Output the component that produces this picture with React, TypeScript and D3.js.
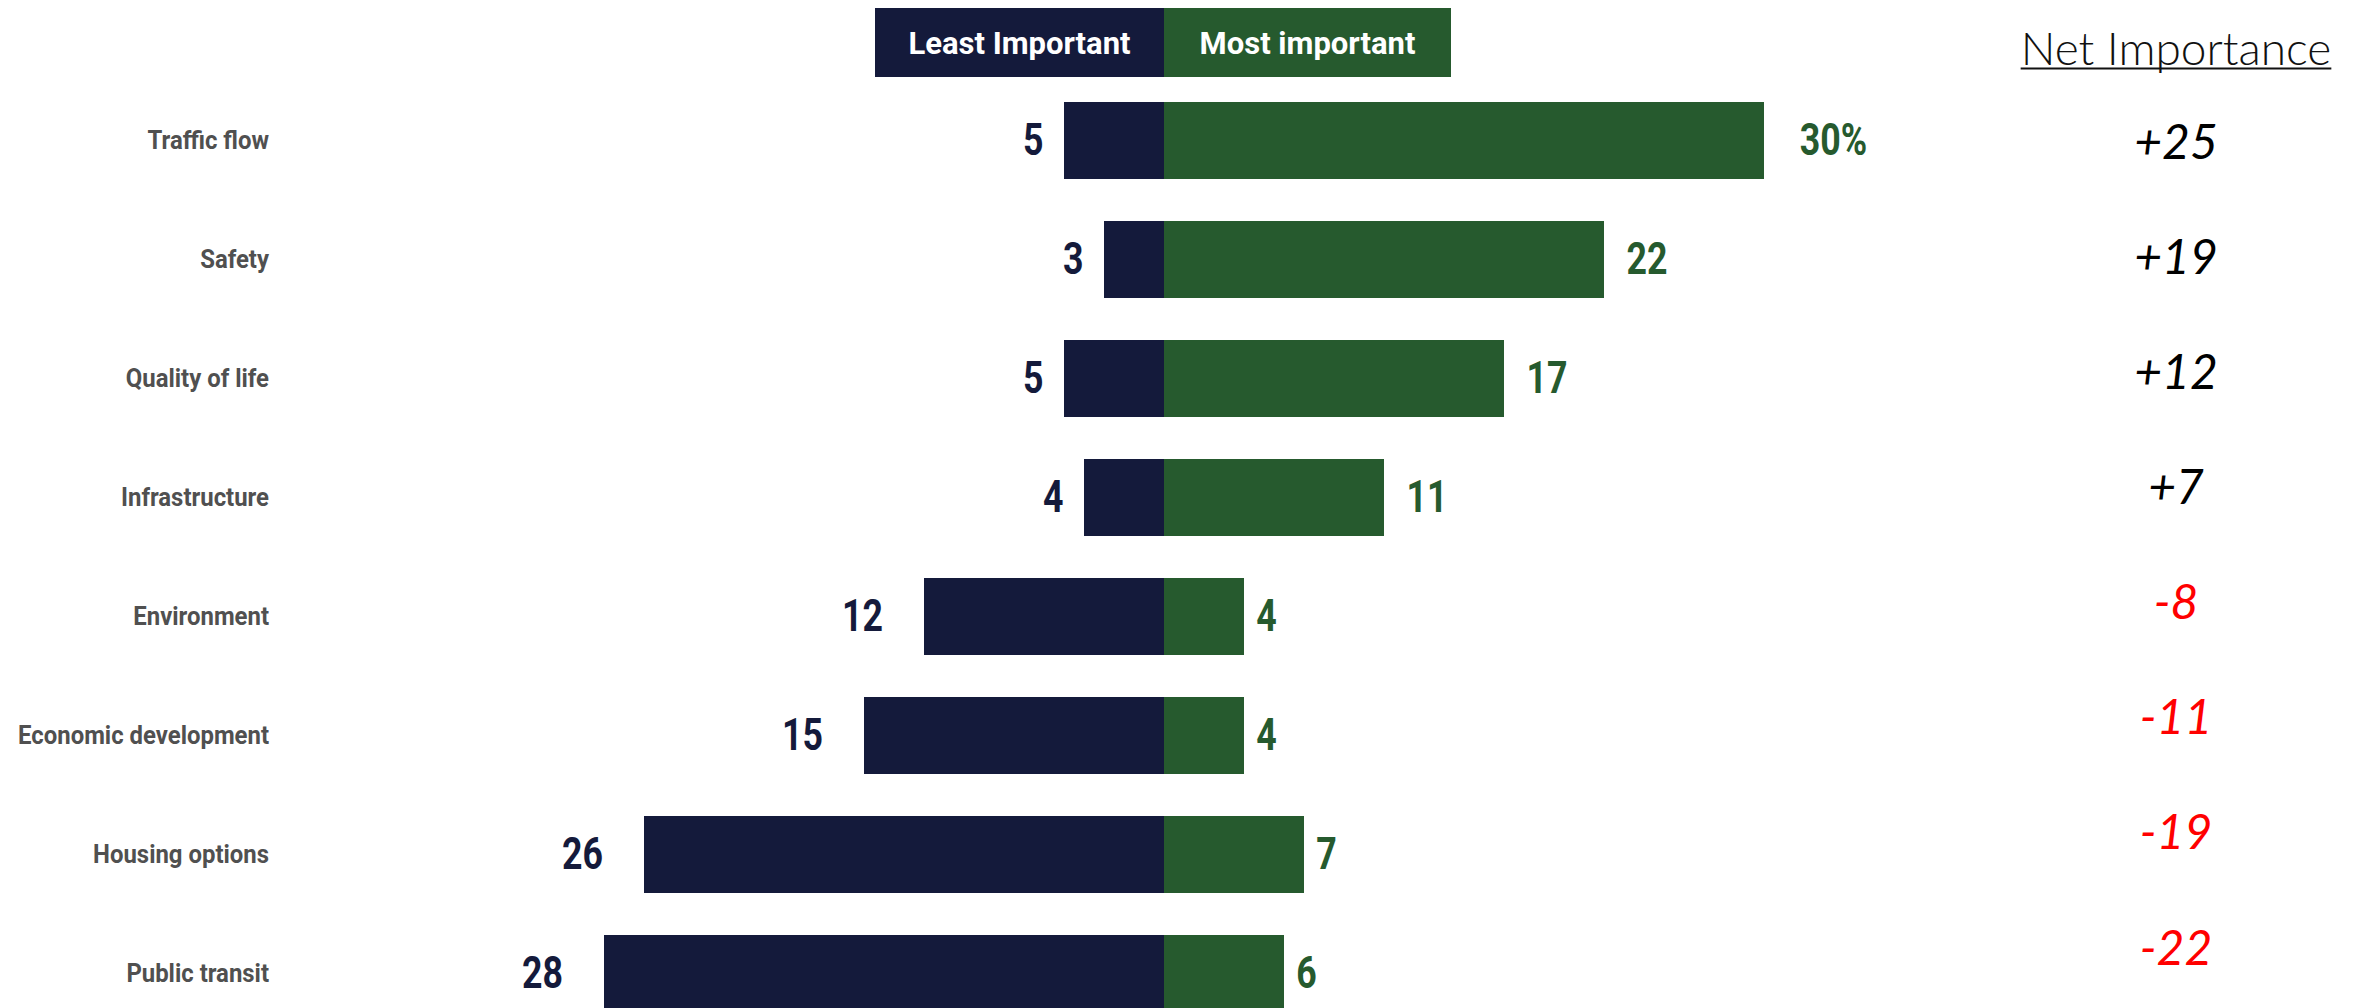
import React, { useEffect, useRef } from "react";
import * as d3 from "d3";

const categories = [
  "Traffic flow",
  "Safety",
  "Quality of life",
  "Infrastructure",
  "Environment",
  "Economic development",
  "Housing options",
  "Public transit",
];
const leastImportant = [5, 3, 5, 4, 12, 15, 26, 28];
const mostImportant = [30, 22, 17, 11, 4, 4, 7, 6];
const legendLabels = ["Least Important", "Most important"];
const netTitle = "Net Importance";

const W = 2361;
const H = 1008;
const NAVY = "#141a3b";
const GREEN = "#265a2e";
const BOLD = "Roboto, 'Liberation Sans', Arial, sans-serif";

export default function App() {
  const ref = useRef<SVGSVGElement>(null);

  useEffect(() => {
    const svg = d3.select(ref.current);
    svg.selectAll("*").remove();

    const x = d3.scaleLinear().domain([-28, 30]).range([604, 1764]);
    const y = d3
      .scaleBand<string>()
      .domain(categories)
      .range([102, 1012])
      .paddingInner(42 / 119)
      .paddingOuter(0);
    const yNet = d3.scalePoint<string>().domain(categories).range([140, 946]);

    const rows = categories.map((c, i) => ({
      cat: c,
      least: leastImportant[i],
      most: mostImportant[i],
      net: mostImportant[i] - leastImportant[i],
      i,
    }));

    const measure = (txt: string, size: number) => {
      const t = svg
        .append("text")
        .attr("font-family", BOLD)
        .attr("font-weight", 700)
        .attr("font-size", size)
        .text(txt);
      const w = (t.node() as SVGTextElement).getComputedTextLength();
      t.remove();
      return w;
    };
    const catScale = 251 / measure("Economic development", 25);
    const numScale = 41 / measure("12", 44);

    // legend
    const x0 = x(0);
    const lg = svg.append("g");
    const legendBoxes = [
      { label: legendLabels[0], x: x0 - 289, w: 289, fill: NAVY },
      { label: legendLabels[1], x: x0, w: 287, fill: GREEN },
    ];
    legendBoxes.forEach((b) => {
      lg.append("rect").attr("x", b.x).attr("y", 8).attr("width", b.w).attr("height", 69).attr("fill", b.fill);
      lg.append("text")
        .attr("x", b.x + b.w / 2)
        .attr("y", 43)
        .attr("text-anchor", "middle")
        .attr("dominant-baseline", "central")
        .attr("fill", "#fff")
        .attr("font-family", BOLD)
        .attr("font-weight", 700)
        .attr("font-size", 31)
        .text(b.label);
    });

    // category labels
    svg
      .append("g")
      .selectAll("g")
      .data(rows)
      .join("g")
      .attr(
        "transform",
        (d) => `translate(269,${(y(d.cat) as number) + y.bandwidth() / 2}) scale(${catScale},1)`
      )
      .append("text")
      .attr("text-anchor", "end")
      .attr("dominant-baseline", "central")
      .attr("fill", "#505050")
      .attr("font-family", BOLD)
      .attr("font-weight", 700)
      .attr("font-size", 25)
      .text((d) => d.cat);

    // bars
    const bars = svg.append("g");
    bars
      .selectAll("rect.least")
      .data(rows)
      .join("rect")
      .attr("class", "least")
      .attr("x", (d) => x(-d.least))
      .attr("y", (d) => y(d.cat) as number)
      .attr("width", (d) => x(0) - x(-d.least))
      .attr("height", y.bandwidth())
      .attr("fill", NAVY);
    bars
      .selectAll("rect.most")
      .data(rows)
      .join("rect")
      .attr("class", "most")
      .attr("x", x(0))
      .attr("y", (d) => y(d.cat) as number)
      .attr("width", (d) => x(d.most) - x(0))
      .attr("height", y.bandwidth())
      .attr("fill", GREEN);

    // value labels
    const leastG = svg.append("g").selectAll("g").data(rows).join("g");
    leastG.each(function (d) {
      const g = d3.select(this);
      const t = g
        .append("text")
        .attr("text-anchor", "end")
        .attr("dominant-baseline", "central")
        .attr("fill", NAVY)
        .attr("font-family", BOLD)
        .attr("font-weight", 700)
        .attr("font-size", 44)
        .text(String(d.least));
      const w = (t.node() as SVGTextElement).getComputedTextLength() * numScale;
      g.attr(
        "transform",
        `translate(${x(-d.least) - w},${(y(d.cat) as number) + y.bandwidth() / 2}) scale(${numScale},1)`
      );
    });

    const mostG = svg.append("g").selectAll("g").data(rows).join("g");
    mostG.each(function (d) {
      const g = d3.select(this);
      const t = g
        .append("text")
        .attr("text-anchor", "start")
        .attr("dominant-baseline", "central")
        .attr("fill", GREEN)
        .attr("font-family", BOLD)
        .attr("font-weight", 700)
        .attr("font-size", 44)
        .text(d.i === 0 ? `${d.most}%` : String(d.most));
      const w = (t.node() as SVGTextElement).getComputedTextLength() * numScale;
      g.attr(
        "transform",
        `translate(${x(d.most) + w / 2 + 2},${(y(d.cat) as number) + y.bandwidth() / 2}) scale(${numScale},1)`
      );
    });

    // net importance
    const netX = 2176;
    const title = svg
      .append("text")
      .attr("x", netX)
      .attr("y", 65)
      .attr("text-anchor", "middle")
      .attr("fill", "#111")
      .attr("font-family", "Lato, 'Open Sans', sans-serif")
      .attr("font-weight", 300)
      .attr("font-size", 46)
      .text(netTitle);
    const tw = (title.node() as SVGTextElement).getComputedTextLength();
    svg
      .append("rect")
      .attr("x", netX - tw / 2)
      .attr("y", 67.5)
      .attr("width", tw)
      .attr("height", 2)
      .attr("fill", "#111");

    svg
      .append("g")
      .selectAll("text")
      .data(rows)
      .join("text")
      .attr("x", netX)
      .attr("y", (d) => yNet(d.cat) as number)
      .attr("text-anchor", "middle")
      .attr("dominant-baseline", "central")
      .attr("fill", (d) => (d.net < 0 ? "#ff0000" : "#000"))
      .attr("font-family", "Lato, 'Open Sans', sans-serif")
      .attr("font-style", "italic")
      .attr("font-size", 48)
      .text((d) => (d.net > 0 ? `+${d.net}` : `${d.net}`));
  }, []);

  return (
    <svg
      ref={ref}
      width={W}
      height={H}
      style={{ position: "absolute", left: 0, top: 0, display: "block", background: "#fff" }}
    />
  );
}
